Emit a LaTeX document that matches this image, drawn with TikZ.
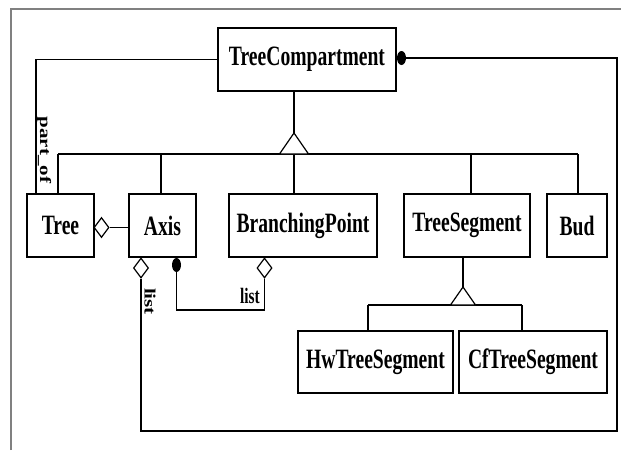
\documentclass[tikz,border=0pt]{standalone}
\usepackage{graphicx}
\usepackage{fontspec}
\setmainfont{Liberation Serif}
\newfontfamily\umlfont[FakeStretch=0.7]{Liberation Serif}
\usetikzlibrary{shapes.geometric}

\begin{document}
\begin{tikzpicture}[x=1pt,y=-1pt,
  cls/.style={draw, line width=1.4pt, inner sep=0pt,
    font=\umlfont\bfseries\fontsize{28}{30}\selectfont},
  conn/.style={line width=1.2pt},
  agg/.style={diamond, draw, fill=white, line width=1.2pt, inner sep=0pt,
    aspect=0.75, minimum width=15pt, minimum height=20pt},
  comp/.style={ellipse, fill=black, inner sep=0pt,
    minimum width=9pt, minimum height=14pt},
  gen/.style={draw, fill=white, line width=1.2pt, line join=miter},
  lbl/.style={inner sep=0pt, font=\umlfont\bfseries\fontsize{22}{24}\selectfont},
  vlbl/.style={inner sep=0pt, font=\bfseries\fontsize{21}{23}\selectfont}]

\useasboundingbox (0,0) rectangle (621,450);

% frame
\draw[gray, line width=1.6pt] (11,450) -- (11,9) -- (621,9);

% classes
\node[cls, minimum width=178pt, minimum height=63pt] (tc)   at (307,59.5)  {TreeCompartment};
\node[cls, minimum width=67pt,  minimum height=63pt] (tree) at (60.5,225.5) {Tree};
\node[cls, minimum width=67pt,  minimum height=63pt] (axis) at (162.5,225.5) {Axis};
\node[cls, minimum width=148pt, minimum height=63pt] (bp)   at (303,225.5) {BranchingPoint};
\node[cls, minimum width=126pt, minimum height=63pt] (ts)   at (467,225.5) {TreeSegment};
\node[cls, minimum width=60pt,  minimum height=63pt] (bud)  at (577,225.5) {Bud};
\node[cls, minimum width=155pt, minimum height=62pt] (hw)   at (375.5,362) {HwTreeSegment};
\node[cls, minimum width=148pt, minimum height=62pt] (cf)   at (533,362)   {CfTreeSegment};

% helper coordinates
\coordinate (partof) at (36,0);
\coordinate (apex1) at (294,133);
\coordinate (busL) at (58,154);
\coordinate (busR) at (578,154);
\coordinate (dAxis) at (161,154);
\coordinate (dTS) at (471,154);
\coordinate (apex2) at (463,287);
\coordinate (bus2L) at (368,305);
\coordinate (bus2R) at (522,305);
\coordinate (bpline) at (0,310);
\coordinate (loop) at (617,431);

% part_of association
\draw[conn] (tc.west) -| (tree.north -| partof);
\node[vlbl] (lpart) at (44,150) {\scalebox{0.75}[1]{\rotatebox{-90}{part\_of}}};

% generalization of TreeCompartment
\draw[conn] (tc.south -| apex1) -- (apex1);
\draw[conn] (busL) -- (busR);
\draw[conn] (busL) -- (busL |- tree.north);
\draw[conn] (dAxis) -- (dAxis |- axis.north);
\draw[conn] (apex1 |- busL) -- (apex1 |- bp.north);
\draw[conn] (dTS) -- (dTS |- ts.north);
\draw[conn] (busR) -- (busR |- bud.north);
\draw[gen] (apex1) -- ++(-14.5,21) -- ++(29,0) -- cycle;

% generalization of TreeSegment
\draw[conn] (ts.south -| apex2) -- (apex2);
\draw[conn] (bus2L) -- (bus2R);
\draw[conn] (bus2L) -- (bus2L |- hw.north);
\draw[conn] (bus2R) -- (bus2R |- cf.north);
\draw[gen] (apex2) -- ++(-12.5,18) -- ++(25,0) -- cycle;

% Tree aggregates Axis
\node[agg] (d1) at (101.5,227.5) {};
\draw[conn] (d1.east) -- (d1.east -| axis.west);

% Axis list of TreeCompartment
\node[agg] (d2) at (141,268) {};
\node[comp] (c1) at (401.5,58) {};
\draw[conn] (d2.south) |- (loop) |- (c1.east);
\node[vlbl] (llist1) at (150,301.5) {\scalebox{0.75}[1]{\rotatebox{-90}{list}}};

% BranchingPoint list of Axis
\node[comp] (c2) at (176.5,265) {};
\node[agg] (d3) at (264.5,268) {};
\draw[conn] (c2.south) |- (d3.south |- bpline) -- (d3.south);
\node[lbl, anchor=base east] (llist2) at (260,303) {list};

\end{tikzpicture}
\end{document}
